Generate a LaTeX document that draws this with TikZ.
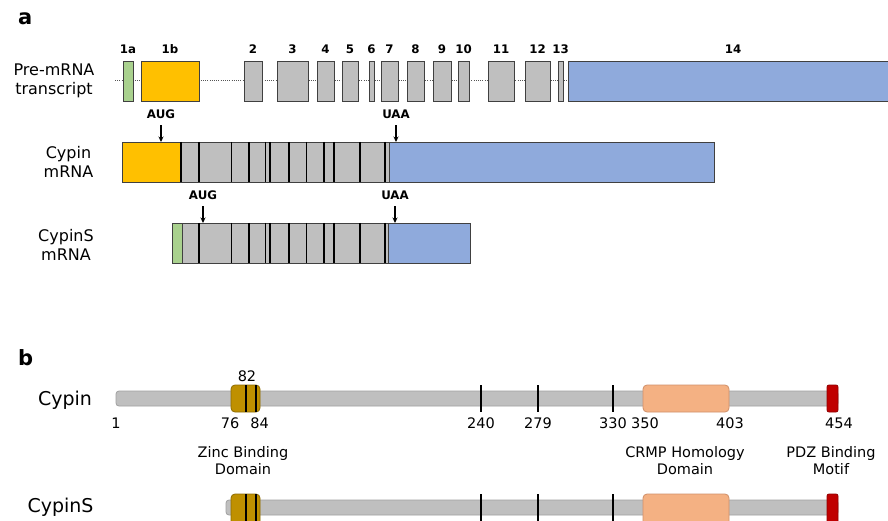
\documentclass[tikz,border=0pt]{standalone}
\usepackage{fontspec}
\setmainfont{DejaVu Sans}
\usetikzlibrary{arrows.meta}
\definecolor{exgold}{HTML}{FFC000}
\definecolor{exgreen}{HTML}{A9D18E}
\definecolor{exblue}{HTML}{8FAADC}
\definecolor{exgray}{HTML}{BFBFBF}
\definecolor{edge}{HTML}{404040}
\definecolor{baredge}{HTML}{A0A0A0}
\definecolor{zinc}{HTML}{BF9000}
\definecolor{zincedge}{HTML}{8C6A00}
\definecolor{crmp}{HTML}{F4B183}
\definecolor{crmpedge}{HTML}{D0906A}
\definecolor{pdz}{HTML}{C00000}
\definecolor{pdzedge}{HTML}{900000}
\definecolor{dotgray}{HTML}{555555}
\newcommand\rbox[6]{\node[#2, minimum width={#5pt-#3pt}, minimum height={#6pt-#4pt}] (#1) at (#3,#4) {};}
\begin{document}
\begin{tikzpicture}[x=1pt,y=-1pt,
  every node/.style={inner sep=0pt, outer sep=0pt},
  box/.style={draw=edge, line width=0.9pt, anchor=north west},
  gbox/.style={box, fill=exgray},
  goldbox/.style={box, fill=exgold},
  greenbox/.style={box, fill=exgreen},
  bluebox/.style={box, fill=exblue},
  lbl/.style={font=\fontsize{16}{19}\selectfont, anchor=base},
  exnum/.style={font=\bfseries\fontsize{11.8}{13}\selectfont, anchor=base},
  panel/.style={font=\bfseries\fontsize{21}{24}\selectfont, anchor=base west},
  arr/.style={-{Stealth[length=5.5pt,width=5pt]}, line width=1.1pt, shorten <=6pt},
  divline/.style={line width=1.3pt, black},
  intron/.style={draw=dotgray, line width=1pt, dash pattern=on 1pt off 1.2pt},
  bar/.style={draw=baredge, fill=exgray, line width=0.8pt, rounded corners=3pt, anchor=north west},
  zincbox/.style={draw=zincedge, fill=zinc, line width=0.8pt, rounded corners=4pt, anchor=north west},
  crmpbox/.style={draw=crmpedge, fill=crmp, line width=0.8pt, rounded corners=4pt, anchor=north west},
  pdzbox/.style={draw=pdzedge, fill=pdz, line width=0.8pt, rounded corners=2pt, anchor=north west},
  tick/.style={line width=1.3pt, black},
  num/.style={font=\fontsize{14.5}{17}\selectfont, anchor=base},
  plbl/.style={font=\fontsize{19}{22}\selectfont, anchor=base east},
]
\useasboundingbox (0,0) rectangle (888,521);
\clip (0,0) rectangle (888,521);
\fill[white] (0,0) rectangle (888,521);

% ---------------- panel a ----------------
\node[panel] (pa) at (18,25) {a};

% pre-mRNA
\node[lbl] (pre1) at (54,76) {Pre-mRNA};
\node[lbl] (pre2) at (54,95) {transcript};
\coordinate (intronL) at (115,81);
\coordinate (intronR) at (568,81);
\draw[intron] (intronL) -- (intronR);

\rbox{e1a}{greenbox}{123}{61}{133}{101}
\rbox{e1b}{goldbox}{141}{61}{199}{101}
\rbox{e2}{gbox}{244}{61}{262}{101}
\rbox{e3}{gbox}{277}{61}{308}{101}
\rbox{e4}{gbox}{317}{61}{334}{101}
\rbox{e5}{gbox}{342}{61}{358}{101}
\rbox{e6}{gbox}{369}{61}{374}{101}
\rbox{e7}{gbox}{381}{61}{398}{101}
\rbox{e8}{gbox}{407}{61}{424}{101}
\rbox{e9}{gbox}{433}{61}{451}{101}
\rbox{e10}{gbox}{458}{61}{469}{101}
\rbox{e11}{gbox}{488}{61}{514}{101}
\rbox{e12}{gbox}{525}{61}{550}{101}
\rbox{e13}{gbox}{558}{61}{563}{101}
\rbox{e14}{bluebox}{568}{61}{895}{101}

\foreach \e/\t in {e1a/1a,e1b/1b,e2/2,e3/3,e4/4,e5/5,e6/6,e7/7,e8/8,e9/9,e10/10,e11/11,e12/12,e13/13}
  \node[exnum] (n\e) at (\e.north |- 0,54) {\t};
\node[exnum] (ne14) at (733,54) {14};

% Cypin mRNA
\node[lbl] (cy1) at (68.5,159) {Cypin};
\node[lbl] (cy2) at (68.5,178) {mRNA};
\rbox{cgold}{goldbox}{122}{142}{181}{182}
\rbox{cgray}{gbox}{181}{142}{389}{182}
\rbox{cblue}{bluebox}{389}{142}{714}{182}
\foreach \x in {181,199,231.7,249,265.7,270,289,306.7,324,334,360,385}
  \draw[divline] (\x,142) -- (\x,182);
\node[exnum] (aug1) at (161,119) {AUG};
\node[exnum] (uaa1) at (396,119) {UAA};
\draw[arr] (aug1.south) -- (aug1.south |- cgold.north);
\draw[arr] (uaa1.south) -- (uaa1.south |- cblue.north);

% CypinS mRNA
\node[lbl] (cs1) at (66,241) {CypinS};
\node[lbl] (cs2) at (66,260) {mRNA};
\rbox{sgreen}{greenbox}{172}{223}{182}{263}
\rbox{sgray}{gbox}{182}{223}{388}{263}
\rbox{sblue}{bluebox}{388}{223}{470}{263}
\foreach \x in {199,231.7,249,265.7,270,289,306.7,324,334,360,385}
  \draw[divline] (\x,223) -- (\x,263);
\node[exnum] (aug2) at (203,200) {AUG};
\node[exnum] (uaa2) at (395,200) {UAA};
\draw[arr] (aug2.south) -- (aug2.south |- sgray.north);
\draw[arr] (uaa2.south) -- (uaa2.south |- sblue.north);

% ---------------- panel b ----------------
\node[panel] (pb) at (18,365) {b};

% Cypin protein
\node[plbl] (pc) at (92,405.5) {Cypin};
\rbox{pbar}{bar}{116}{391}{838}{406}
\rbox{pzinc}{zincbox}{231}{385}{260}{412}
\rbox{pcrmp}{crmpbox}{643}{385}{729}{412}
\rbox{ppdz}{pdzbox}{827}{385}{838}{412}
\foreach \x in {246,256,481,538,613}
  \draw[tick] (\x,385) -- (\x,412);

\node[num] (p82) at (247,381) {82};
\node[num] (p1) at (116,428) {1};
\node[num] (p76) at (230,428) {76};
\node[num] (p84) at (259.5,428) {84};
\node[num] (p240) at (481,428) {240};
\node[num] (p279) at (538,428) {279};
\node[num] (p330) at (613,428) {330};
\node[num] (p350) at (645,428) {350};
\node[num] (p403) at (730,428) {403};
\node[num] (p454) at (839,428) {454};

\node[num] (zb1) at (243,457.5) {Zinc Binding};
\node[num] (zb2) at (243,474.5) {Domain};
\node[num] (ch1) at (685,457.5) {CRMP Homology};
\node[num] (ch2) at (685,474.5) {Domain};
\node[num] (pd1) at (831,457.5) {PDZ Binding};
\node[num] (pd2) at (831,474.5) {Motif};

% CypinS protein
\node[plbl] (ps) at (93.5,512.5) {CypinS};
\rbox{sbar}{bar}{226}{500}{838}{515}
\rbox{szinc}{zincbox}{231}{494}{260}{530}
\rbox{scrmp}{crmpbox}{643}{494}{729}{530}
\rbox{spdz}{pdzbox}{827}{494}{838}{530}
\foreach \x in {246,256,481,538,613}
  \draw[tick] (\x,494) -- (\x,530);
\end{tikzpicture}
\end{document}
